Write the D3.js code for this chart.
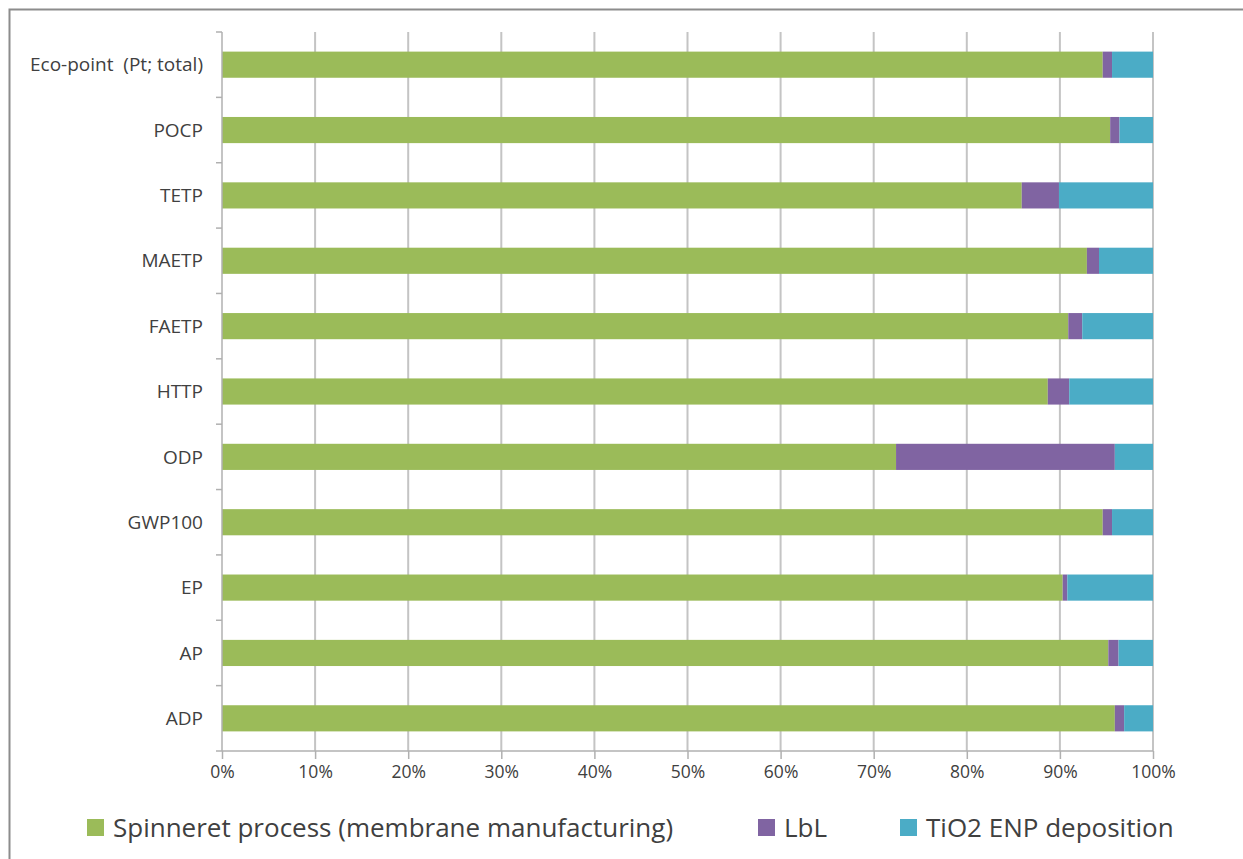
<!DOCTYPE html>
<html>
<head>
<meta charset="utf-8">
<script src="https://cdn.jsdelivr.net/npm/d3@7/dist/d3.min.js"></script>
<style>
  html, body { margin: 0; padding: 0; background: #ffffff; }
  svg { display: block; }
  text { font-family: "Open Sans", Lato, "Liberation Sans", sans-serif; fill: #404040; }
</style>
</head>
<body>
<svg id="chart" width="1243" height="859"></svg>
<script>
// Impact categories, top to bottom
const categories = ["Eco-point  (Pt; total)", "POCP", "TETP", "MAETP", "FAETP", "HTTP", "ODP", "GWP100", "EP", "AP", "ADP"];

// Share of each impact (%) per process stage
const spinneret = [94.6, 95.4, 85.9, 92.9, 90.9, 88.7, 72.4, 94.6, 90.3, 95.2, 95.9];
const lbl       = [ 1.0,  1.0,  4.0,  1.3,  1.5,  2.3, 23.5,  1.0,  0.5,  1.1,  1.0];
const tio2      = [ 4.4,  3.6, 10.1,  5.8,  7.6,  9.0,  4.1,  4.4,  9.2,  3.7,  3.1];

const seriesNames = ["Spinneret process (membrane manufacturing)", "LbL", "TiO2 ENP deposition"];
const seriesColors = ["#9BBB59", "#8064A2", "#4BACC6"];
const tickValues = [0, 10, 20, 30, 40, 50, 60, 70, 80, 90, 100];

const svg = d3.select("#chart");

// outer chart frame (top and left edges visible)
svg.append("rect")
  .attr("x", 9.5).attr("y", 9.5)
  .attr("width", 1260).attr("height", 900)
  .attr("fill", "none").attr("stroke", "#8c8c8c").attr("stroke-width", 2);

const plot = { left: 222, right: 1153, top: 32, bottom: 751 };

const x = d3.scaleLinear().domain([0, 100]).range([plot.left, plot.right]);
const y = d3.scaleBand().domain(categories).range([plot.top, plot.bottom]).paddingInner(0.6).paddingOuter(0.3);
const yb = d3.scaleBand().domain(categories).range([plot.top, plot.bottom]);

// vertical gridlines
svg.append("g")
  .selectAll("line")
  .data(tickValues.filter(d => d > 0))
  .join("line")
  .attr("x1", d => x(d)).attr("x2", d => x(d))
  .attr("y1", plot.top).attr("y2", plot.bottom)
  .attr("stroke", "#c4c4c4").attr("stroke-width", 2);

// stacked bars
const rows = categories.map((c, i) => ({ cat: c, vals: [spinneret[i], lbl[i], tio2[i]] }));
const stack = d3.stack().keys([0, 1, 2]).value((d, k) => d.vals[k]);
const layers = stack(rows);

svg.append("g")
  .selectAll("g")
  .data(layers)
  .join("g")
  .attr("fill", (d, i) => seriesColors[i])
  .selectAll("rect")
  .data(d => d)
  .join("rect")
  .attr("x", d => x(d[0]))
  .attr("width", d => x(d[1]) - x(d[0]))
  .attr("y", d => y(d.data.cat))
  .attr("height", y.bandwidth());

// left axis with category labels
const yAxis = svg.append("g")
  .attr("transform", `translate(${plot.left},0)`);
yAxis.append("line")
  .attr("x1", 0).attr("x2", 0)
  .attr("y1", plot.top).attr("y2", plot.bottom)
  .attr("stroke", "#b0b0b0").attr("stroke-width", 1.5);
yAxis.selectAll("line.tick")
  .data(categories)
  .join("line")
  .attr("class", "tick")
  .attr("x1", -6).attr("x2", 0)
  .attr("y1", d => yb(d)).attr("y2", d => yb(d))
  .attr("stroke", "#b0b0b0").attr("stroke-width", 1.5);
yAxis.selectAll("text")
  .data(categories)
  .join("text")
  .attr("x", -19)
  .attr("y", d => yb(d) + yb.bandwidth() / 2)
  .attr("dy", "0.35em")
  .attr("text-anchor", "end")
  .attr("font-size", 19)
  .style("white-space", "pre")
  .attr("xml:space", "preserve")
  .text(d => d);

// bottom axis
const xAxis = d3.axisBottom(x)
  .tickValues(tickValues)
  .tickFormat(d => d + "%")
  .tickSize(8)
  .tickPadding(7);
const gx = svg.append("g")
  .attr("transform", `translate(0,${plot.bottom})`)
  .call(xAxis);
gx.select(".domain").attr("stroke", "#b0b0b0").attr("stroke-width", 1.5)
  .attr("d", `M${plot.left - 6},0H${plot.right}`);
gx.selectAll(".tick line").attr("stroke", "#b0b0b0").attr("stroke-width", 1.5);
gx.selectAll(".tick text")
  .attr("font-size", 17.5)
  .attr("fill", "#404040")
  .attr("font-family", "'Open Sans', Lato, sans-serif");

// legend
const legendItems = [
  { name: seriesNames[0], color: seriesColors[0], x: 87 },
  { name: seriesNames[1], color: seriesColors[1], x: 758 },
  { name: seriesNames[2], color: seriesColors[2], x: 900 }
];
const lg = svg.append("g");
legendItems.forEach(item => {
  lg.append("rect")
    .attr("x", item.x).attr("y", 819)
    .attr("width", 17).attr("height", 17)
    .attr("fill", item.color);
  lg.append("text")
    .attr("x", item.x + 26).attr("y", 837)
    .attr("font-size", 26)
    .text(item.name);
});
</script>
</body>
</html>
